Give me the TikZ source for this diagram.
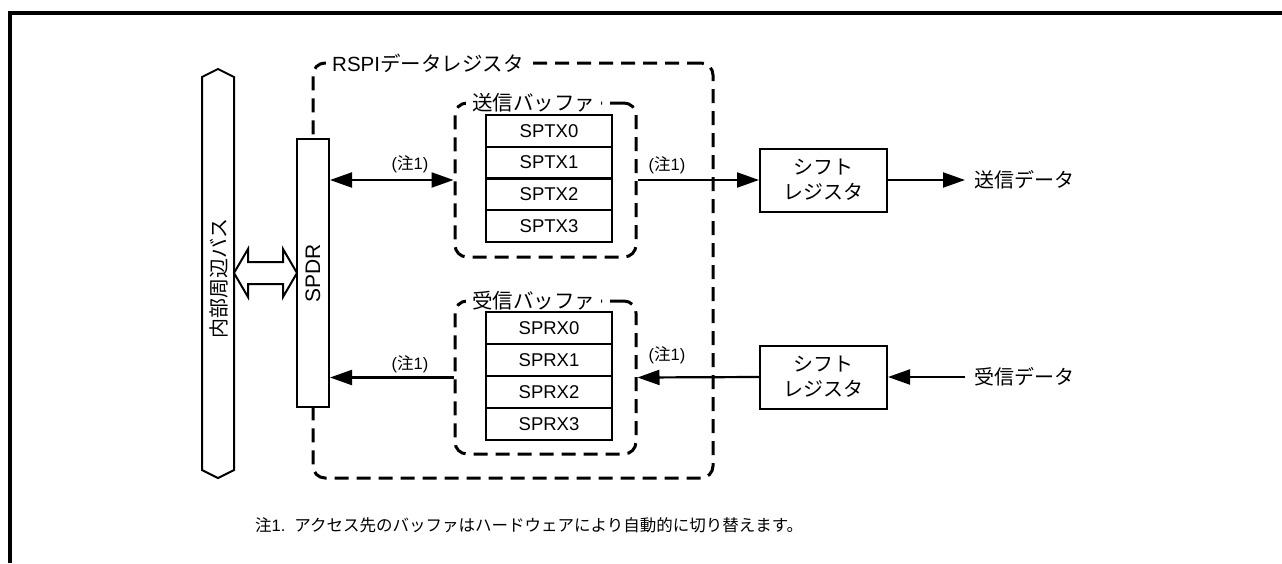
\documentclass[tikz,border=0pt]{standalone}
\usepackage{fontspec}
\setmainfont{Liberation Sans}
\newfontfamily\jp{Noto Sans CJK JP}
\usetikzlibrary{arrows.meta}
\tikzset{
  reg/.style={draw, line width=2pt, fill=white, minimum width=126pt, minimum height=31.75pt, inner sep=0pt, font=\fontsize{18.5}{20}\selectfont},
  dbox/.style={draw, dash pattern=on 14pt off 8pt, line width=3pt, rounded corners=12pt, inner sep=0pt},
  solidbox/.style={draw, line width=2pt, fill=white, inner sep=0pt},
  arr/.style={line width=2.2pt, -{Triangle[length=22pt,width=15pt]}},
  darr/.style={line width=2.2pt, {Triangle[length=22pt,width=15pt]}-{Triangle[length=22pt,width=15pt]}},
  lbl/.style={font=\fontsize{20}{24}\selectfont, inner sep=0pt},
  note/.style={font=\fontsize{16.5}{20}\selectfont, inner sep=0pt},
  hdr/.style={fill=white, inner xsep=6pt, inner ysep=2pt, anchor=west, font=\fontsize{20.5}{24}\selectfont}
}
\begin{document}
\begin{tikzpicture}[x=1pt,y=-1pt]
\useasboundingbox (0,0) rectangle (1282,563);
% outer frame
\draw[line width=3.2pt] (10,563) -- (10,13) -- (1282,13);

% internal bus
\draw[line width=2pt] (202,77) -- (218,69) -- (234,77) -- (234,470) -- (218,478) -- (202,470) -- cycle;
\node[lbl, rotate=90] (bus) at (219,278) {\jp 内部周辺バス};

% hollow double arrow bus <-> SPDR
\draw[line width=2pt, fill=white] (234,273) -- (248,249) -- (248,262) -- (283,262) -- (283,249) -- (297,273) -- (283,297) -- (283,284) -- (248,284) -- (248,297) -- cycle;

% RSPI data register dashed frame
\node[dbox, minimum width=400pt, minimum height=415pt] (rspi) at (513,270.5) {};
\node[hdr] (rspilbl) at (326,63) {RSPI{\jp データレジスタ}};

% SPDR
\node[solidbox, rotate=90, minimum width=268pt, minimum height=32pt, font=\fontsize{21}{24}\selectfont] (spdr) at (313,273) {SPDR};

% transmit buffer
\node[dbox, minimum width=181pt, minimum height=154pt] (txbuf) at (545.5,180) {};
\node[hdr] (txlbl) at (466,103) {\jp 送信バッファ};
\node[reg] (tx0) at (549,130.9) {SPTX0};
\node[reg] (tx1) at (549,162.6) {SPTX1};
\node[reg] (tx2) at (549,194.4) {SPTX2};
\node[reg] (tx3) at (549,226.1) {SPTX3};

% receive buffer
\node[dbox, minimum width=181pt, minimum height=153pt] (rxbuf) at (545.5,377.5) {};
\node[hdr] (rxlbl) at (466,301) {\jp 受信バッファ};
\node[reg] (rx0) at (549,328) {SPRX0};
\node[reg] (rx1) at (549,360) {SPRX1};
\node[reg] (rx2) at (549,392) {SPRX2};
\node[reg] (rx3) at (549,424) {SPRX3};

% shift registers
\node[solidbox, minimum width=127pt, minimum height=63pt, align=center, font=\fontsize{20}{25}\selectfont] (srt) at (823.5,180) {\jp シフト\\\jp レジスタ};
\node[solidbox, minimum width=127pt, minimum height=63pt, align=center, font=\fontsize{20}{25}\selectfont] (srr) at (823.5,377) {\jp シフト\\\jp レジスタ};

% data text
\node[lbl, anchor=west, inner xsep=9pt] (txd) at (965,180) {\jp 送信データ};
\node[lbl, anchor=west, inner xsep=9pt] (rxd) at (965,377) {\jp 受信データ};

% connectors
\draw[darr] (spdr.south |- txbuf.west) -- (txbuf.west);
\draw[arr] (txbuf.east) -- (srt.west);
\draw[arr] (srt.east) -- (txd.west);
\draw[arr] (rxd.west) -- (srr.east);
\draw[arr] (srr.west) -- (rxbuf.east);
\draw[arr] (rxbuf.west) -- (spdr.south |- rxbuf.west);

% (note1) labels
\node[note] (n1) at (410,164) {({\jp 注}1)};
\node[note] (n2) at (667,165) {({\jp 注}1)};
\node[note] (n3) at (410,364) {({\jp 注}1)};
\node[note] (n4) at (667,355) {({\jp 注}1)};

% footnote
\node[anchor=west, inner sep=0pt, font=\fontsize{16.5}{20}\selectfont] (foot) at (255,525) {{\jp 注}1.\hspace{9pt}{\jp アクセス先のバッファはハードウェアにより自動的に切り替えます。}};
\end{tikzpicture}
\end{document}
